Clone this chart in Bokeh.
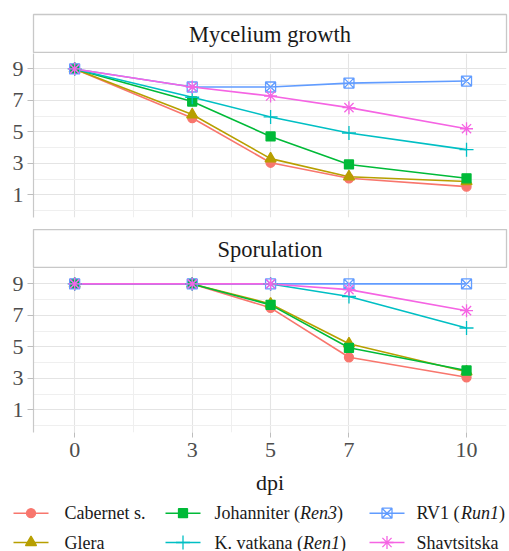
from bokeh.plotting import figure
from bokeh.layouts import column, row
from bokeh.models import FixedTicker, Label, Range1d
from bokeh.embed import file_html
from bokeh.resources import INLINE
from bokeh.core.properties import value

# ---------------- data ----------------
dpi = [0, 3, 5, 7, 10]
x_ticks = [0, 3, 5, 7, 10]
x_minor = [1.5, 4]
y_ticks = [1, 3, 5, 7, 9]
y_minor = [0, 2, 4, 6, 8]

cultivars = ["Cabernet s.", "Glera", "Johanniter (Ren3)", "K. vatkana (Ren1)", "RV1 (Run1)", "Shavtsitska"]

myc_cabernet = [9, 5.88, 3.04, 2.05, 1.52]
myc_glera = [9, 6.1, 3.3, 2.15, 1.85]
myc_johanniter = [9, 6.93, 4.71, 2.93, 2.05]
myc_kvatkana = [9, 7.2, 5.95, 4.93, 3.87]
myc_rv1 = [9, 7.85, 7.85, 8.1, 8.23]
myc_shavtsitska = [9, 7.85, 7.28, 6.54, 5.2]

spo_cabernet = [9, 9, 7.48, 4.34, 3.07]
spo_glera = [9, 9, 7.73, 5.2, 3.42]
spo_johanniter = [9, 9, 7.67, 4.94, 3.5]
spo_kvatkana = [9, 9, 9, 8.2, 6.2]
spo_rv1 = [9, 9, 9, 9, 9]
spo_shavtsitska = [9, 9, 9, 8.64, 7.3]

mycelium = [myc_cabernet, myc_glera, myc_johanniter, myc_kvatkana, myc_rv1, myc_shavtsitska]
sporulation = [spo_cabernet, spo_glera, spo_johanniter, spo_kvatkana, spo_rv1, spo_shavtsitska]

# ---------------- style ----------------
colors = ["#F8766D", "#B79F00", "#00BA38", "#00BFC4", "#619CFF", "#F564E3"]
markers = ["circle", "triangle", "square", "cross", "square_x", "asterisk"]
sizes = [9, 11, 9, 14, 10, 13]
filled = [True, True, True, False, False, False]
FONT = "Liberation Serif"
GRID_MAJOR = "#e4e4e4"
GRID_MINOR = "#efefef"
BORDER = "#c8c8c8"

FRAME_W = 473
BOTTOM_BORDER = 71
LEG_H = 551 - (53 + 176 + 39 + 164 + BOTTOM_BORDER)


def make_strip(title, top_border):
    s = figure(frame_width=FRAME_W, frame_height=39, x_range=Range1d(0, 1), y_range=Range1d(0, 1),
               x_axis_location=None, y_axis_location=None,
               output_backend="svg", toolbar_location=None,
               min_border_left=33, min_border_right=3, min_border_top=top_border, min_border_bottom=0)
    s.grid.visible = False
    s.outline_line_color = BORDER
    s.outline_line_width = 1.3
    s.background_fill_color = "white"
    s.border_fill_color = "white"
    s.add_layout(Label(x=0.5, y=0.5, text=title, text_align="center", text_baseline="middle",
                       text_font=FONT, text_font_size="22.5px", text_color="#1a1a1a"))
    return s


def make_panel(series, show_x, bottom_border):
    p = figure(frame_width=FRAME_W, frame_height=164,
               x_range=Range1d(-1.05, 11.02), y_range=Range1d(-0.44, 9.98),
               output_backend="svg", toolbar_location=None,
               min_border_left=33, min_border_right=3, min_border_top=0,
               min_border_bottom=bottom_border)
    p.outline_line_color = None
    p.background_fill_color = "white"
    p.border_fill_color = "white"

    p.xgrid.ticker = FixedTicker(ticks=x_ticks, minor_ticks=x_minor)
    p.ygrid.ticker = FixedTicker(ticks=y_ticks, minor_ticks=y_minor)
    p.xgrid.grid_line_color = GRID_MAJOR
    p.ygrid.grid_line_color = GRID_MAJOR
    p.xgrid.minor_grid_line_color = GRID_MINOR
    p.ygrid.minor_grid_line_color = GRID_MINOR
    p.xgrid.grid_line_width = 1.1
    p.ygrid.grid_line_width = 1.1

    p.yaxis.ticker = FixedTicker(ticks=y_ticks)
    p.yaxis.major_label_text_font = FONT
    p.yaxis.major_label_text_font_size = "22px"
    p.yaxis.major_label_text_color = "#4d4d4d"
    p.yaxis.axis_line_color = BORDER
    p.yaxis.axis_line_width = 1.2
    p.yaxis.major_tick_line_color = "#bdbdbd"
    p.yaxis.major_tick_out = 6
    p.yaxis.major_tick_in = 0
    p.yaxis.minor_tick_line_color = None
    p.yaxis.major_label_standoff = 4

    if show_x:
        p.xaxis.ticker = FixedTicker(ticks=x_ticks)
        p.xaxis.major_label_text_font = FONT
        p.xaxis.major_label_text_font_size = "22px"
        p.xaxis.major_label_text_color = "#4d4d4d"
        p.xaxis.axis_line_color = None
        p.xaxis.major_tick_line_color = "#bdbdbd"
        p.xaxis.major_tick_out = 5
        p.xaxis.major_tick_in = 0
        p.xaxis.minor_tick_line_color = None
        p.xaxis.major_label_standoff = 5
        p.xaxis.axis_label = "dpi"
        p.xaxis.axis_label_text_font = FONT
        p.xaxis.axis_label_text_font_size = "22px"
        p.xaxis.axis_label_text_font_style = "normal"
        p.xaxis.axis_label_text_color = "#1a1a1a"
        p.xaxis.axis_label_standoff = 10
    else:
        p.xaxis.visible = False

    for vals, c in zip(series, colors):
        p.line(dpi, vals, line_color=c, line_width=1.6)
    for vals, c, m, sz, f in zip(series, colors, markers, sizes, filled):
        p.scatter(dpi, vals, marker=m, size=sz, line_color=c,
                  fill_color=c if f else None, line_width=1.3)
    return p


strip1 = make_strip("Mycelium growth", 14)
panel1 = make_panel(mycelium, False, 12)
strip2 = make_strip("Sporulation", 0)
panel2 = make_panel(sporulation, True, BOTTOM_BORDER)

# ---------------- legend (manual, for italic parts) ----------------
ROMAN = {" ": 250, "(": 333, ")": 333, ".": 250, "1": 500, "3": 500, "J": 389, "K": 722,
         "R": 667, "V": 722, "a": 444, "e": 444, "h": 500, "i": 278, "k": 500, "n": 500,
         "o": 500, "r": 333, "t": 278, "v": 500}
ITALIC = {"R": 611, "e": 444, "n": 500, "u": 500, "1": 500, "3": 500}
LEG_FS = 18


def text_width(s, style):
    table = ITALIC if style == "italic" else ROMAN
    return sum(table.get(ch, 500) for ch in s) / 1000.0 * LEG_FS


label_parts = [
    [("Cabernet s.", "normal")],
    [("Glera", "normal")],
    [("Johanniter (", "normal"), ("Ren3", "italic"), (")", "normal")],
    [("K. vatkana (", "normal"), ("Ren1", "italic"), (")", "normal")],
    [("RV1 (", "normal"), ("Run1", "italic"), (")", "normal")],
    [("Shavtsitska", "normal")],
]

leg = figure(frame_width=509, frame_height=LEG_H, x_range=Range1d(0, 509), y_range=Range1d(LEG_H, 0),
             x_axis_location=None, y_axis_location=None, output_backend="svg", toolbar_location=None,
             min_border=0)
leg.grid.visible = False
leg.outline_line_color = None
leg.background_fill_color = "white"
leg.border_fill_color = "white"

key_x0 = [13, 165, 369]
key_x1 = [48, 200, 404]
text_x = [64, 214, 416]
leg_top = 551 - LEG_H
row_y = [512.7 - leg_top, 542.0 - leg_top]

for i, (parts, c, m, sz, f) in enumerate(zip(label_parts, colors, markers, sizes, filled)):
    col, rw = i // 2, i % 2
    y = row_y[rw]
    leg.segment(x0=[key_x0[col]], y0=[y], x1=[key_x1[col]], y1=[y], line_color=c, line_width=1.6)
    leg.scatter(x=[(key_x0[col] + key_x1[col]) / 2], y=[y], marker=m, size=sz, line_color=c,
                fill_color=c if f else None, line_width=1.3)
    x = text_x[col]
    for txt, style in parts:
        leg.text(x=[x], y=[y], text=[txt], text_font=value(FONT), text_font_size=value(f"{LEG_FS}px"),
                 text_font_style=value(style), text_color="#1a1a1a", text_baseline="middle",
                 text_align="left")
        x += text_width(txt, style)

top = column(strip1, panel1, strip2, panel2, spacing=0)
layout = column(top, row(leg), spacing=0)
open("out.html", "w").write(file_html(layout, INLINE))
